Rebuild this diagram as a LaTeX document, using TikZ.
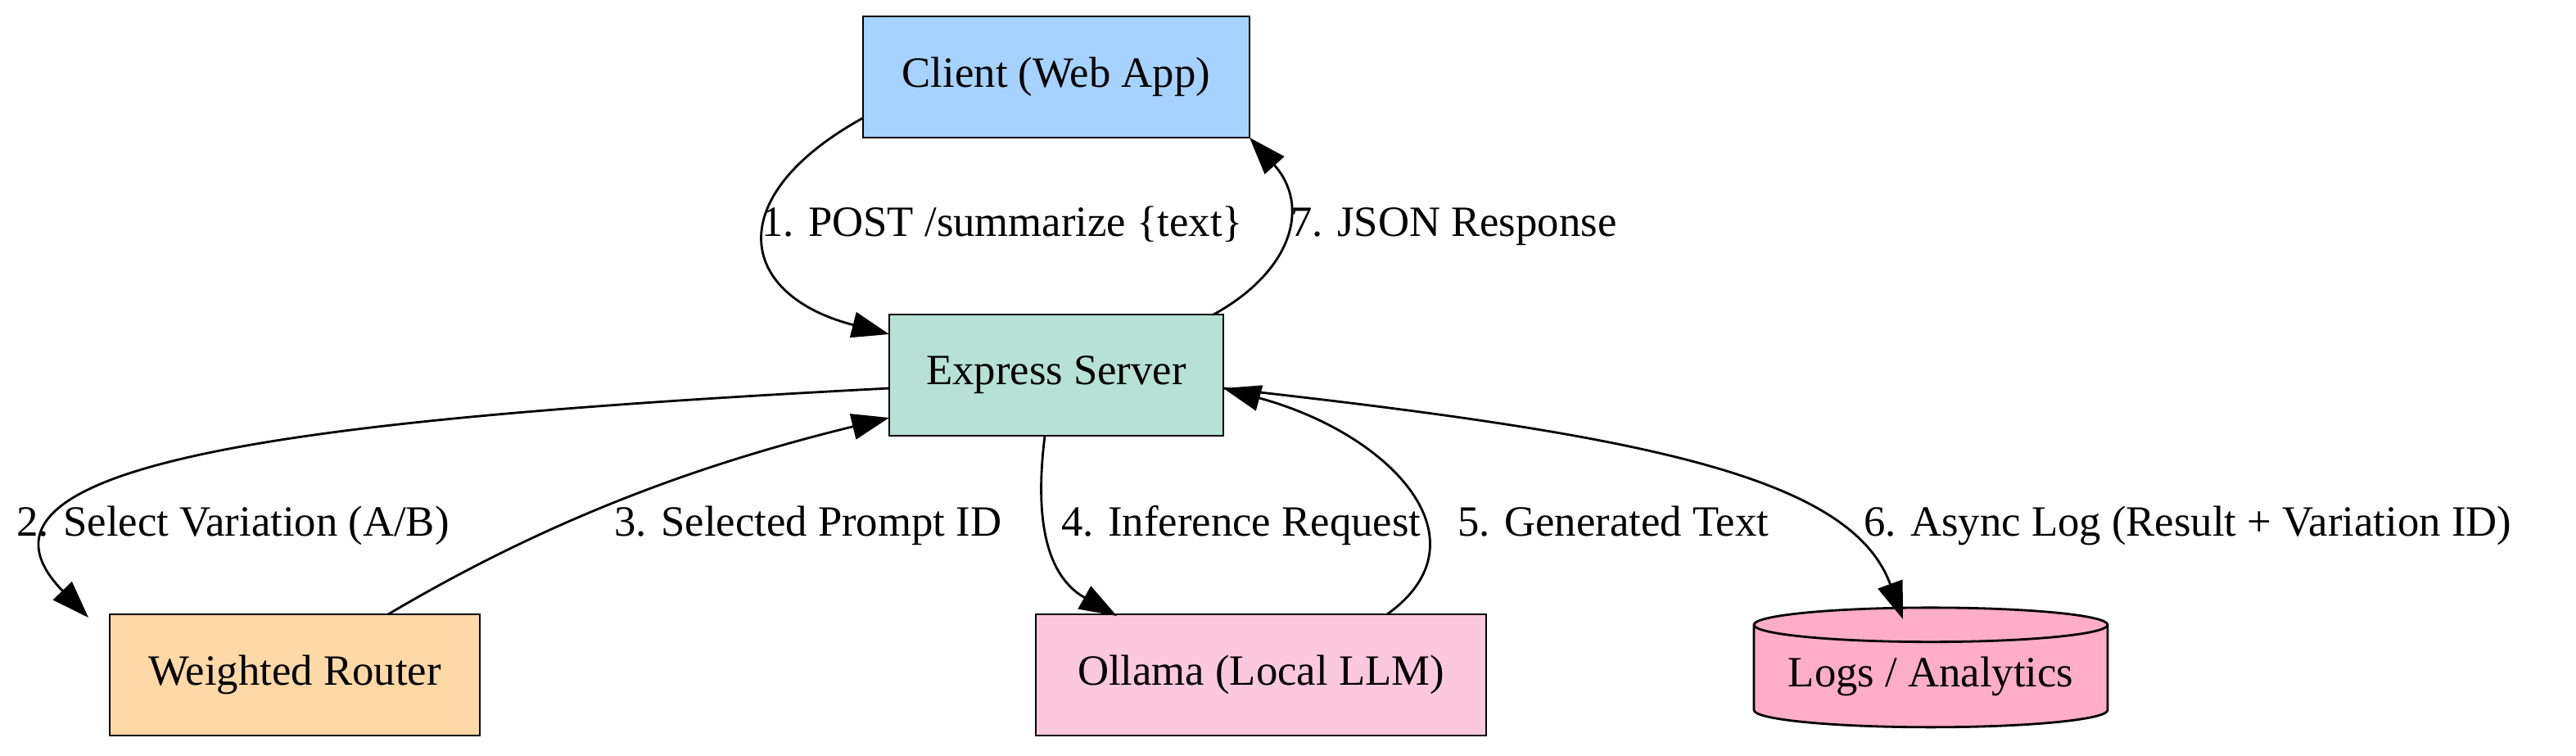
\documentclass[tikz,border=0pt]{standalone}
\usepackage{fontspec}
\setmainfont{Liberation Serif}
\usepackage{xcolor}
\usetikzlibrary{arrows.meta,shapes.geometric}
\definecolor{clientblue}{HTML}{A6D2FF}
\definecolor{servergreen}{HTML}{B7E1D4}
\definecolor{routerorange}{HTML}{FED8A6}
\definecolor{ollamapink}{HTML}{FCC8DE}
\definecolor{logpink}{HTML}{FFADC8}
\begin{document}
\begin{tikzpicture}[x=0.02cm, y=-0.02cm, font=\fontsize{15}{18}\selectfont,
  box/.style={draw, thick, minimum height=1.48cm, inner sep=0pt},
  flow/.style={-{Triangle[length=13pt,width=9pt]}, thick},
  lbl/.style={anchor=west, inner sep=1pt, text height=1.6ex, text depth=0.5ex}]

%---------------- Rahmen ----------------%
\useasboundingbox (0,0) rectangle (1573,461);

%---------------- Knoten ----------------%
\node[box, fill=clientblue, minimum width=4.72cm] (client) at (645,47) {Client (Web App)};
\node[box, fill=servergreen, minimum width=4.08cm] (server) at (645,229) {Express Server};
\node[box, fill=routerorange, minimum width=4.52cm] (router) at (180,412) {Weighted Router};
\node[box, fill=ollamapink, minimum width=5.5cm] (ollama) at (770,412) {Ollama (Local LLM)};
\node[cylinder, shape border rotate=90, draw, thick, fill=logpink, aspect=0.12,
      minimum width=4.32cm, minimum height=1.46cm, inner sep=0pt] (logs) at (1179,413) {Logs / Analytics};

%---------------- Andockpunkte ----------------%
\coordinate (c1) at (527,72);   \coordinate (s1) at (543,204);
\coordinate (s7) at (741,192);  \coordinate (c7) at (763,84);
\coordinate (s2) at (543,237);  \coordinate (r2) at (54,377);
\coordinate (r3) at (237,375);  \coordinate (s3) at (543,255);
\coordinate (s4) at (638,266);  \coordinate (o4) at (682,376);
\coordinate (o5) at (847,375);  \coordinate (s5) at (747,237);
\coordinate (l6) at (1162,378);

%---------------- Pfade ----------------%
\draw[flow] (c1) .. controls (440,120) and (450,180) .. (s1);
\draw[flow] (s7) .. controls (790,165) and (800,125) .. (c7);
\draw[flow] (s2) .. controls (200,255) and (-40,280) .. (r2);
\draw[flow] (r3) .. controls (330,320) and (420,285) .. (s3);
\draw[flow] (s4) .. controls (630,330) and (645,355) .. (o4);
\draw[flow] (o5) .. controls (910,330) and (850,265) .. (s5);
\draw[flow] (s5) .. controls (1000,265) and (1130,290) .. (l6);

%---------------- Beschriftungen ----------------%
\node[lbl] (l1) at (463,140) {1. POST /summarize \{text\}};
\node[lbl] (l7) at (786,140) {7. JSON Response};
\node[lbl] (l2) at (8,323) {2. Select Variation (A/B)};
\node[lbl] (l3) at (373,323) {3. Selected Prompt ID};
\node[lbl] (l4) at (646,323) {4. Inference Request};
\node[lbl] (l5) at (888,323) {5. Generated Text};
\node[lbl] (l6t) at (1136,323) {6. Async Log (Result + Variation ID)};

\end{tikzpicture}
\end{document}
